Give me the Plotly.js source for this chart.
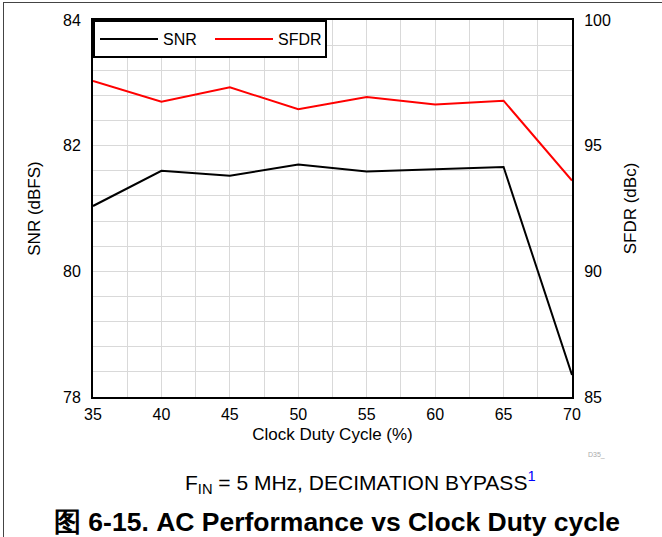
<!DOCTYPE html>
<html>
<head>
<meta charset="utf-8">
<script src="https://cdn.plot.ly/plotly-3.0.1.min.js"></script>
<style>
html,body{margin:0;padding:0;background:#fff;}
#wrap{position:relative;width:662px;height:537px;overflow:hidden;}
#frameTop{position:absolute;left:3px;top:2px;width:659px;height:0;border-top:1.5px solid #444;}
#frameLeft{position:absolute;left:3px;top:2px;width:0;height:535px;border-left:1.5px solid #444;}
#chart{position:absolute;left:0;top:0;width:662px;height:537px;}
</style>
</head>
<body>
<div id="wrap">
<div id="chart"></div>
<div id="frameTop"></div>
<div id="frameLeft"></div>
</div>
<script>
const dutyCycle = [35, 40, 45, 50, 55, 60, 65, 70];
const snr = [81.04, 81.60, 81.52, 81.70, 81.59, 81.62, 81.66, 78.35];
const sfdr = [97.57, 96.75, 97.32, 96.45, 96.94, 96.64, 96.79, 93.61];
const xTicks = [35, 40, 45, 50, 55, 60, 65, 70];
const snrTicks = [78, 80, 82, 84];
const sfdrTicks = [85, 90, 95, 100];

const FONT = 'Arial, "Liberation Sans", Helvetica, sans-serif';
const L = 93, R = 572, T = 20, B = 397;
const W = 662, H = 537;
const px = x => (x - L) / (R - L);
const py = y => (B - y) / (B - T);

const traces = [
  {x: dutyCycle, y: snr, name: 'SNR', type: 'scatter', mode: 'lines',
   line: {color: '#000000', width: 2}, yaxis: 'y'},
  {x: dutyCycle, y: sfdr, name: 'SFDR', type: 'scatter', mode: 'lines',
   line: {color: '#ff0000', width: 2}, yaxis: 'y2'}
];

const layout = {
  width: W, height: H,
  margin: {l: L, r: W - R, t: T, b: H - B, pad: 0},
  paper_bgcolor: '#ffffff', plot_bgcolor: '#ffffff',
  font: {family: FONT, size: 16, color: '#000'},
  showlegend: true,
  legend: {
    x: 0, y: 1, xanchor: 'left', yanchor: 'top', orientation: 'h',
    bgcolor: '#ffffff', bordercolor: '#000000', borderwidth: 2,
    font: {family: FONT, size: 16, color: '#000'},
    itemwidth: 58, entrywidth: 42, tracegroupgap: 0
  },
  xaxis: {
    range: [35, 70], tickvals: xTicks, ticktext: xTicks.map(String),
    showgrid: true, gridcolor: '#d9d9d9', gridwidth: 1,
    minor: {dtick: 2.5, tick0: 35, showgrid: true, gridcolor: '#d9d9d9', gridwidth: 1, ticks: ''},
    showline: true, linecolor: '#000', linewidth: 2, mirror: true,
    ticks: '', zeroline: false, ticklabelstandoff: 2,
    tickfont: {family: FONT, size: 16, color: '#000'},
    title: {text: 'Clock Duty Cycle (%)', font: {family: FONT, size: 17, color: '#000'}, standoff: 6}
  },
  yaxis: {
    range: [78, 84], tickvals: snrTicks, ticktext: snrTicks.map(String),
    showgrid: true, gridcolor: '#d9d9d9', gridwidth: 1,
    minor: {dtick: 0.4, tick0: 78, showgrid: true, gridcolor: '#d9d9d9', gridwidth: 1, ticks: ''},
    showline: true, linecolor: '#000', linewidth: 2,
    ticks: '', zeroline: false, ticklabelstandoff: 7,
    tickfont: {family: FONT, size: 16, color: '#000'},
    title: {text: 'SNR (dBFS)', font: {family: FONT, size: 17, color: '#000'}, standoff: 18}
  },
  yaxis2: {
    range: [85, 100], tickvals: sfdrTicks, ticktext: sfdrTicks.map(String),
    overlaying: 'y', side: 'right',
    showgrid: false, showline: true, linecolor: '#000', linewidth: 2,
    ticks: '', zeroline: false, ticklabelstandoff: 7,
    tickfont: {family: FONT, size: 16, color: '#000'},
    title: {text: 'SFDR (dBc)', font: {family: FONT, size: 17, color: '#000'}, standoff: 14}
  },
  annotations: [
    {xref: 'paper', yref: 'paper', x: px(360), y: py(482), xanchor: 'center', yanchor: 'middle',
     showarrow: false, font: {family: FONT, size: 21, color: '#000'},
     text: 'F<sub>IN</sub> = 5 MHz, DECIMATION BYPASS<sup><span style="color:#0000ff">1</span></sup>'},
    {xref: 'paper', yref: 'paper', x: px(337), y: py(522), xanchor: 'center', yanchor: 'middle',
     showarrow: false, font: {family: FONT, size: 26.5, color: '#000', weight: 'bold'},
     text: '<b>图 6-15. AC Performance vs Clock Duty cycle</b>'},
    {xref: 'paper', yref: 'paper', x: px(586), y: py(455), xanchor: 'left', yanchor: 'middle',
     showarrow: false, font: {family: FONT, size: 7, color: '#aaaaaa'},
     text: 'D35_'}
  ]
};

Plotly.newPlot('chart', traces, layout, {displayModeBar: false, staticPlot: true});
</script>
</body>
</html>
